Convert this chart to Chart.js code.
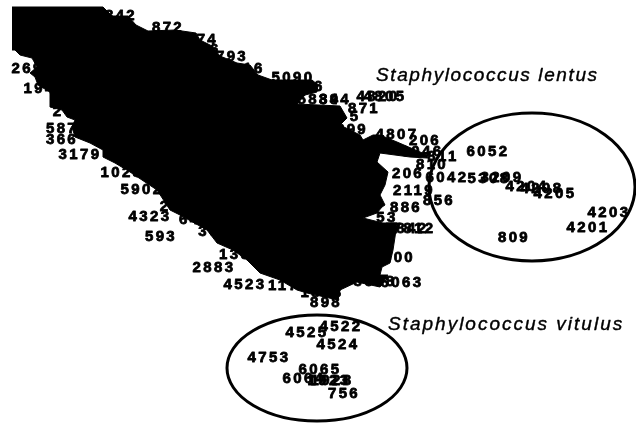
<!DOCTYPE html>
<html><head><meta charset="utf-8">
<style>html,body{margin:0;padding:0;background:#fff}canvas{display:block}</style>
<script src="https://cdn.jsdelivr.net/npm/chart.js@4"></script>
</head><body><canvas id="c" width="636" height="423"></canvas>
<script>
// Strain labels (text, horizontal, vertical position in the plot's units)
const labelTexts = ["342","872","874","76","793","16","5090","36","5834","2695","1944","2","587","366","3179","1023","5902","2","4323","593","646","36","2883","130","4523","1176","898","1898","3688","6063","800","7842","7812","53","886","856","2119","206","206","4807","4805","4820","871","894","5","899","6046","811","810","6042","5308","3209","4204","4208","4205","6052","809","4201","4203","4522","4525","4524","4753","6065","6064","1928","1923","756"];
const labelX = [121,168,202,210,232,254,293,314,319,33,45,58,62,62,80,122,142,165,150,161,195,209,214,235,245,289,326,322,375,402,399,407,414,387,406,439,414,408,425,397,385,378,364,335,355,352,422,443,432,447,489,502,527,542,555,488,514,588,609,341,307,338,269,320,304,332,329,344];
const labelY = [16,28,40,50,57,69,78,87,100,69,89,112,129,140,155,173,190,207,217,237,220,232,268,255,285,286,303,293,282,283,258,229,229,218,208,201,191,174,141,135,97,97,109,100,117,130,152,157,165,178,179,178,187,189,194,152,238,228,213,327,333,345,358,370,379,381,381,394];

// Outline of the solid region where the labels overprint each other
const massX = [12,103,112,128,136,148,175,196,200,212,220,237,250,258,272,312,318,317,305,297,340,347,340,360,363,373,380,397,427,427,410,380,377,388,385,380,385,382,377,363,383,397,395,393,390,382,380,388,380,357,340,338,307,297,280,260,247,233,217,207,180,170,157,130,115,103,103,90,75,72,75,67,62,50,50,38,35,30,37,32,20,15,12];
const massY = [7,7,16,16,25,31,30,33,40,46,56,63,65,75,80,80,85,92,95,104,106,118,125,135,140,135,135,142,155,158,157,153,162,172,185,195,205,207,213,218,223,223,237,250,263,267,275,275,287,282,290,300,293,290,280,273,260,250,243,230,215,210,190,172,163,157,150,143,137,127,120,117,110,107,92,85,77,73,67,58,55,50,50];

// Cluster circles: centre and radii, in the plot's units
const circleX = [532,317];
const circleY = [187,368];
const circleRX = [103,90];
const circleRY = [74,53];

// Cluster names
const nameTexts = ["Staphylococcus lentus","Staphylococcus vitulus"];
const nameX = [376,388];
const nameY = [76,325];
const nameSpacing = ['1.6px','2px'];

const overlay = {
  id:'overlay',
  afterDatasetsDraw(chart){
    const {ctx,scales:{x,y}} = chart;
    ctx.save();
    ctx.strokeStyle='#000'; ctx.lineWidth=3;
    circleX.forEach((cx,i)=>{
      const px=x.getPixelForValue(cx), py=y.getPixelForValue(circleY[i]);
      const rx=Math.abs(x.getPixelForValue(cx+circleRX[i])-px), ry=Math.abs(y.getPixelForValue(circleY[i]+circleRY[i])-py);
      ctx.beginPath(); ctx.ellipse(px,py,rx,ry,0,0,Math.PI*2); ctx.stroke();
    });
    ctx.fillStyle='#000'; ctx.textBaseline='middle'; ctx.textAlign='center';
    ctx.font='bold 15px "Liberation Sans"'; ctx.letterSpacing='2.4px';
    ctx.lineWidth=0.8; ctx.lineJoin='round';
    labelTexts.forEach((t,i)=>{
      const a=x.getPixelForValue(labelX[i]), b=y.getPixelForValue(labelY[i]);
      ctx.fillText(t,a,b); ctx.strokeText(t,a,b);
    });
    ctx.textAlign='left';
    ctx.font='italic 19px "Liberation Sans"';
    ctx.lineWidth=0.4;
    nameTexts.forEach((t,i)=>{
      ctx.letterSpacing=nameSpacing[i];
      const a=x.getPixelForValue(nameX[i]), b=y.getPixelForValue(nameY[i]);
      ctx.fillText(t,a,b); ctx.strokeText(t,a,b);
    });
    ctx.restore();
  }
};

new Chart(document.getElementById('c'),{
  type:'scatter',
  data:{datasets:[
    {label:'overprinted labels',data:massX.map((v,i)=>({x:v,y:massY[i]})),showLine:true,fill:'shape',tension:0,
     backgroundColor:'#000',borderColor:'#000',borderWidth:1,pointRadius:0},
    {label:'strains',data:labelX.map((v,i)=>({x:v,y:labelY[i]})),pointRadius:0,showLine:false}
  ]},
  options:{
    responsive:false,animation:false,
    layout:{padding:0},
    plugins:{legend:{display:false},tooltip:{enabled:false}},
    scales:{
      x:{type:'linear',min:0,max:636,display:false},
      y:{type:'linear',min:0,max:423,reverse:true,display:false}
    }
  },
  plugins:[overlay]
});
</script></body></html>
